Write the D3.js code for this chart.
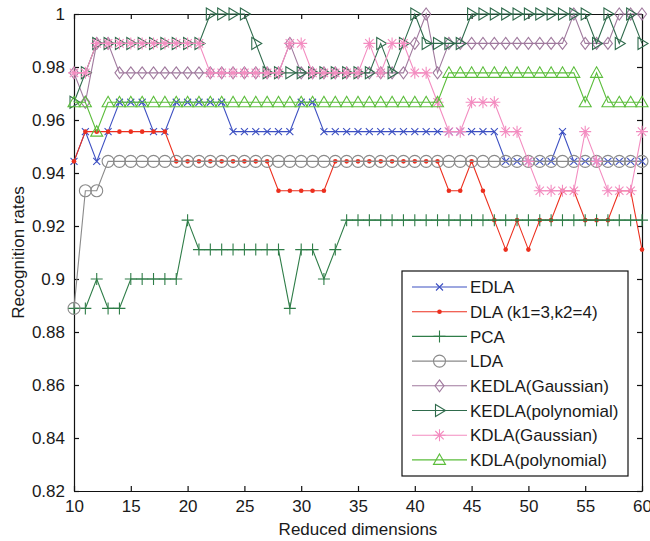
<!DOCTYPE html>
<html>
<head>
<meta charset="utf-8">
<script src="https://cdn.jsdelivr.net/npm/d3@7"></script>
<style>
  body { margin: 0; background: #fff; }
  svg text { font-family: "Liberation Sans", Arial, sans-serif; fill: #1a1a1a; }
</style>
</head>
<body>
<div id="recognition_chart"></div>
<script>
// Reduced dimensions (x values)
var dims = [10,11,12,13,14,15,16,17,18,19,20,21,22,23,24,25,26,27,28,29,30,
            31,32,33,34,35,36,37,38,39,40,41,42,43,44,45,46,47,48,49,50,
            51,52,53,54,55,56,57,58,59,60];

// Recognition rates, one value per dimension
var edla = [.9444,.9556,.9444,.9556,.9667,.9667,.9667,.9556,.9556,.9667,.9667,
            .9667,.9667,.9667,.9556,.9556,.9556,.9556,.9556,.9556,.9667,
            .9667,.9556,.9556,.9556,.9556,.9556,.9556,.9556,.9556,.9556,
            .9556,.9556,.9556,.9556,.9556,.9556,.9556,.9444,.9444,.9444,
            .9444,.9444,.9556,.9444,.9444,.9444,.9444,.9444,.9444,.9444];
var dla  = [.9444,.9556,.9556,.9556,.9556,.9556,.9556,.9556,.9556,.9444,.9444,
            .9444,.9444,.9444,.9444,.9444,.9444,.9444,.9333,.9333,.9333,
            .9333,.9333,.9444,.9444,.9444,.9444,.9444,.9444,.9444,.9444,
            .9444,.9444,.9333,.9333,.9444,.9333,.9222,.9111,.9222,.9111,
            .9222,.9222,.9333,.9333,.9222,.9222,.9222,.9333,.9333,.9111];
var pca  = [.8889,.8889,.9000,.8889,.8889,.9000,.9000,.9000,.9000,.9000,.9222,
            .9111,.9111,.9111,.9111,.9111,.9111,.9111,.9111,.8889,.9111,
            .9111,.9000,.9111,.9222,.9222,.9222,.9222,.9222,.9222,.9222,
            .9222,.9222,.9222,.9222,.9222,.9222,.9222,.9222,.9222,.9222,
            .9222,.9222,.9222,.9222,.9222,.9222,.9222,.9222,.9222,.9222];
var lda  = [.8889,.9333,.9333,.9444,.9444,.9444,.9444,.9444,.9444,.9444,.9444,
            .9444,.9444,.9444,.9444,.9444,.9444,.9444,.9444,.9444,.9444,
            .9444,.9444,.9444,.9444,.9444,.9444,.9444,.9444,.9444,.9444,
            .9444,.9444,.9444,.9444,.9444,.9444,.9444,.9444,.9444,.9444,
            .9444,.9444,.9444,.9444,.9444,.9444,.9444,.9444,.9444,.9444];
var kedla_gauss = [.9778,.9667,.9889,.9889,.9778,.9778,.9778,.9778,.9778,.9778,.9778,
            .9778,.9778,.9778,.9778,.9778,.9778,.9778,.9778,.9889,.9778,
            .9778,.9778,.9778,.9778,.9778,.9778,.9778,.9778,.9778,.9889,
            1.000,.9778,.9889,.9889,.9889,.9889,.9889,.9889,.9889,.9889,
            .9889,.9889,.9889,1.000,.9889,.9889,.9889,1.000,1.000,1.000];
var kedla_poly = [.9667,.9778,.9889,.9889,.9889,.9889,.9889,.9889,.9889,.9889,.9889,
            .9889,1.000,1.000,1.000,1.000,.9889,.9778,.9778,.9778,.9778,
            .9778,.9778,.9778,.9778,.9778,.9778,.9889,.9778,.9889,1.000,
            .9889,.9889,.9889,.9889,1.000,1.000,1.000,1.000,1.000,1.000,
            1.000,1.000,1.000,1.000,1.000,.9889,1.000,.9889,1.000,.9889];
var kdla_gauss = [.9778,.9778,.9889,.9889,.9889,.9889,.9889,.9889,.9889,.9889,.9889,
            .9889,.9778,.9778,.9778,.9778,.9778,.9778,.9778,.9889,.9889,
            .9778,.9778,.9778,.9778,.9778,.9889,.9778,.9889,.9889,.9778,
            .9778,.9667,.9556,.9556,.9667,.9667,.9667,.9556,.9556,.9444,
            .9333,.9333,.9333,.9333,.9556,.9444,.9333,.9333,.9333,.9556];
var kdla_poly = [.9667,.9667,.9556,.9667,.9667,.9667,.9667,.9667,.9667,.9667,.9667,
            .9667,.9667,.9667,.9667,.9667,.9667,.9667,.9667,.9667,.9667,
            .9667,.9667,.9667,.9667,.9667,.9667,.9667,.9667,.9667,.9667,
            .9667,.9667,.9778,.9778,.9778,.9778,.9778,.9778,.9778,.9778,
            .9778,.9778,.9778,.9778,.9667,.9778,.9667,.9667,.9667,.9667];

// Axis ticks
var x_ticks = [10,15,20,25,30,35,40,45,50,55,60];
var y_ticks = [0.82,0.84,0.86,0.88,0.9,0.92,0.94,0.96,0.98,1];
var y_tick_labels = ["0.82","0.84","0.86","0.88","0.9","0.92","0.94","0.96","0.98","1"];

// Series names, in plotting order
var series_names = ["EDLA","DLA (k1=3,k2=4)","PCA","LDA","KEDLA(Gaussian)",
                    "KEDLA(polynomial)","KDLA(Gaussian)","KDLA(polynomial)"];

// Marker shapes drawn around (0,0)
var marker_paths = {
  "x":        "M-3.5,-3.5L3.5,3.5M-3.5,3.5L3.5,-3.5",
  "plus":     "M-6,0H6M0,-6V6",
  "diamond":  "M0,-6L4.5,0L0,6L-4.5,0Z",
  "tri_right":"M-4,-6L6,0L-4,6Z",
  "asterisk": "M-6,0H6M0,-6V6M-4.2,-4.2L4.2,4.2M-4.2,4.2L4.2,-4.2",
  "tri_up":   "M0,-6L6,4.5L-6,4.5Z"
};

var series = [
  {name: series_names[0], values: edla,        color: "#3d50c2", marker: "x"},
  {name: series_names[1], values: dla,         color: "#ec2f1e", marker: "dot"},
  {name: series_names[2], values: pca,         color: "#2f7d48", marker: "plus"},
  {name: series_names[3], values: lda,         color: "#8a8a8a", marker: "circle"},
  {name: series_names[4], values: kedla_gauss, color: "#a07a9e", marker: "diamond"},
  {name: series_names[5], values: kedla_poly,  color: "#2f6b4c", marker: "tri_right"},
  {name: series_names[6], values: kdla_gauss,  color: "#f38cc0", marker: "asterisk"},
  {name: series_names[7], values: kdla_poly,   color: "#5bbd3b", marker: "tri_up"}
];

var width  = 650,
    height = 541,
    plot   = {"left": 74, "right": 642, "top": 14, "bottom": 491};

var svg = d3.select("#recognition_chart")
            .append("svg")
              .attr("width", width)
              .attr("height", height);

svg.append("rect")
     .attr("width", width)
     .attr("height", height)
     .attr("fill", "#fff");

var x = d3.scaleLinear().domain([10, 60]).range([plot.left, plot.right]);
var y = d3.scaleLinear().domain([0.82, 1]).range([plot.bottom, plot.top]);

// Axes: labels at bottom / left, inward ticks on all four sides
var axis_bottom = d3.axisBottom(x).tickValues(x_ticks).tickSizeInner(-5).tickSizeOuter(0).tickPadding(9);
var axis_top    = d3.axisTop(x).tickValues(x_ticks).tickSizeInner(-5).tickSizeOuter(0).tickFormat("");
var axis_left   = d3.axisLeft(y).tickValues(y_ticks).tickSizeInner(-5).tickSizeOuter(0).tickPadding(9)
                    .tickFormat(function(d, i) { return y_tick_labels[i]; });
var axis_right  = d3.axisRight(y).tickValues(y_ticks).tickSizeInner(-5).tickSizeOuter(0).tickFormat("");

function style_axis(g) {
  g.select(".domain").attr("stroke", "#111").attr("stroke-width", 1.2);
  g.selectAll(".tick line").attr("stroke", "#111").attr("stroke-width", 1.2);
  g.selectAll(".tick text").attr("font-size", "17px").attr("fill", "#1a1a1a")
   .attr("font-family", "'Liberation Sans', Arial, sans-serif");
}

svg.append("g").attr("transform", "translate(0," + plot.bottom + ")").call(axis_bottom).call(style_axis);
svg.append("g").attr("transform", "translate(0," + plot.top + ")").call(axis_top).call(style_axis);
svg.append("g").attr("transform", "translate(" + plot.left + ",0)").call(axis_left).call(style_axis);
svg.append("g").attr("transform", "translate(" + plot.right + ",0)").call(axis_right).call(style_axis);

// Axis titles
svg.append("text")
     .attr("x", (plot.left + plot.right) / 2)
     .attr("y", 535)
     .attr("text-anchor", "middle")
     .attr("font-size", "17px")
     .text("Reduced dimensions");

svg.append("text")
     .attr("transform", "translate(24," + ((plot.top + plot.bottom) / 2) + ") rotate(-90)")
     .attr("text-anchor", "middle")
     .attr("font-size", "17px")
     .text("Recognition rates");

// Draw one marker of a given kind into a selection
function draw_marker(sel, s) {
  if (s.marker == "circle") {
    sel.append("circle").attr("r", 6).attr("fill", "none")
       .attr("stroke", s.color).attr("stroke-width", 1.1);
  } else if (s.marker == "dot") {
    sel.append("circle").attr("r", 2.3).attr("fill", s.color).attr("stroke", "none");
  } else {
    sel.append("path").attr("d", marker_paths[s.marker]).attr("fill", "none")
       .attr("stroke", s.color).attr("stroke-width", 1.1);
  }
}

var line = d3.line()
             .x(function(d, i) { return x(dims[i]); })
             .y(function(d) { return y(d); });

// Lines and markers, one group per series
series.forEach(function(s) {
  var g = svg.append("g").attr("class", "series");
  g.append("path")
     .attr("d", line(s.values))
     .attr("fill", "none")
     .attr("stroke", s.color)
     .attr("stroke-width", 1.1);
  g.selectAll("g.mk")
   .data(s.values)
   .enter()
   .append("g")
     .attr("class", "mk")
     .attr("transform", function(d, i) { return "translate(" + x(dims[i]) + "," + y(d) + ")"; })
     .each(function() { draw_marker(d3.select(this), s); });
});

// Legend
var legend = svg.append("g").attr("class", "legend");
legend.append("rect")
        .attr("x", 402).attr("y", 271)
        .attr("width", 226).attr("height", 205)
        .attr("fill", "#fff")
        .attr("stroke", "#111")
        .attr("stroke-width", 1.2);

series.forEach(function(s, i) {
  var ly = 287 + i * 24.7;
  var row = legend.append("g");
  row.append("line")
       .attr("x1", 412).attr("x2", 467)
       .attr("y1", ly).attr("y2", ly)
       .attr("stroke", s.color).attr("stroke-width", 1.1);
  draw_marker(row.append("g").attr("transform", "translate(439.5," + ly + ")"), s);
  row.append("text")
       .attr("x", 470).attr("y", ly)
       .attr("dy", "0.36em")
       .attr("font-size", "17px")
       .text(s.name);
});
</script>
</body>
</html>
